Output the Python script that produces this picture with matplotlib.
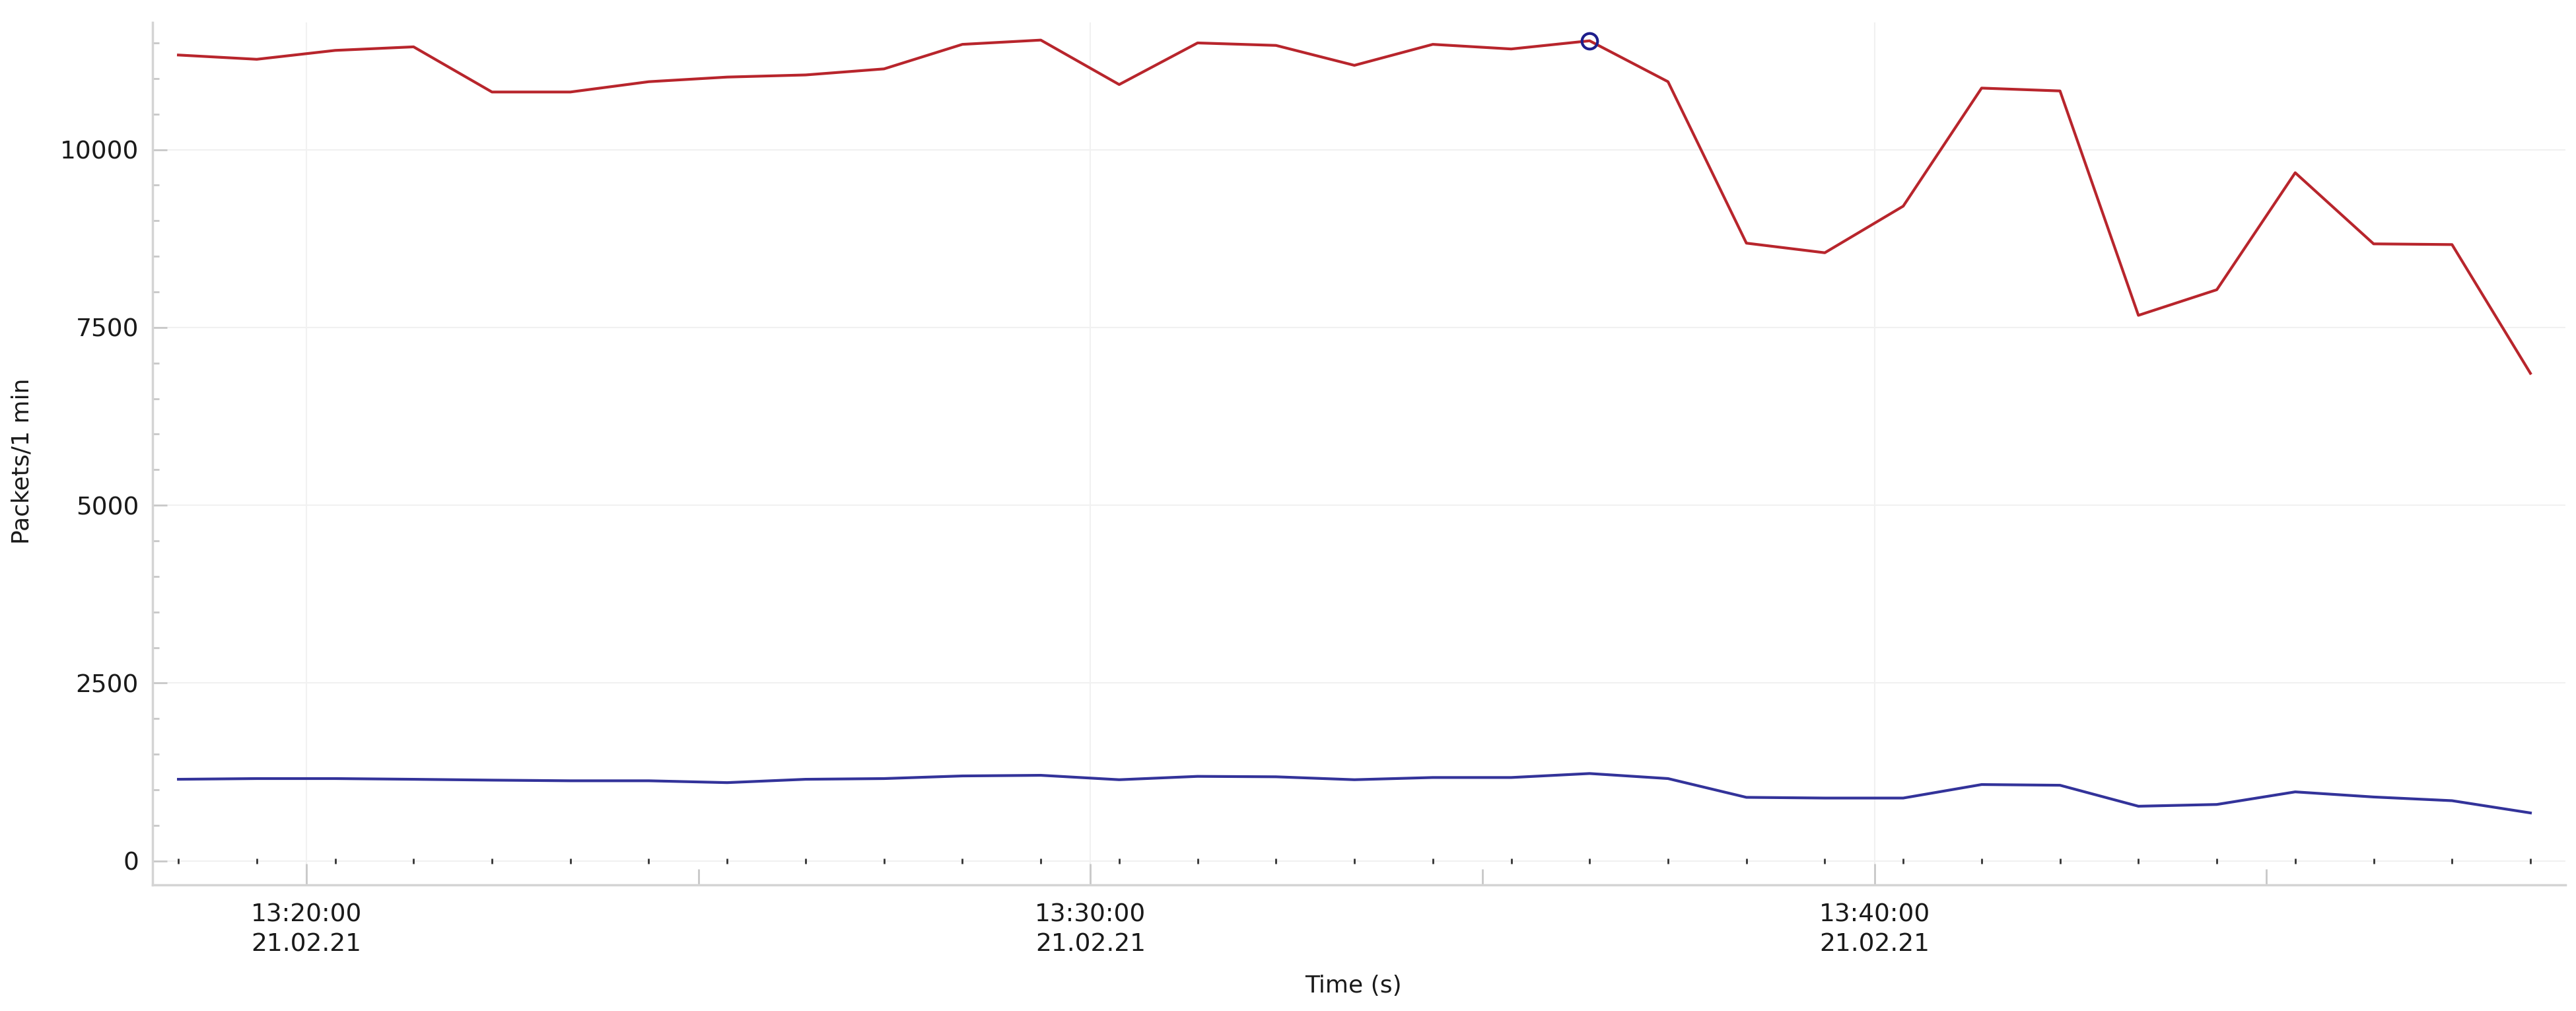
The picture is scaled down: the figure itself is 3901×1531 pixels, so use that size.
import matplotlib
matplotlib.use('Agg')
import matplotlib.pyplot as plt
import matplotlib.dates as mdates
from matplotlib.ticker import MultipleLocator
from datetime import datetime, timedelta

# one sample per minute, first bin at 13:18:22
start = datetime(2021, 2, 21, 13, 18, 22)
times = [start + timedelta(minutes=i) for i in range(31)]

# packets per minute (red graph)
all_packets = [11330, 11270, 11395, 11445, 10810, 10810, 10955, 11020, 11050, 11135,
               11480, 11540, 10915, 11500, 11465, 11185, 11480, 11415, 11530, 10955,
               8685, 8550, 9205, 10865, 10825, 7670, 8030, 9675, 8675, 8665, 6855]
# packets per minute (blue graph)
filtered_packets = [1147, 1157, 1157, 1147, 1135, 1126, 1126, 1100, 1147, 1157,
                    1194, 1203, 1141, 1188, 1182, 1141, 1172, 1172, 1228, 1157,
                    893, 883, 883, 1073, 1063, 768, 793, 970, 898, 846, 674]
# third graph, empty
error_packets = [0] * 31
selected = 18  # highlighted sample

plt.rcParams['font.family'] = 'DejaVu Sans'

fig = plt.figure(figsize=(39.01, 15.31), dpi=100)
ax = fig.add_axes([0.0592, 0.1248, 0.9368, 0.8530])

ax.plot(times, all_packets, color='#b8252c', lw=3, zorder=3)
ax.plot(times, filtered_packets, color='#33339a', lw=3, zorder=3)
ax.plot(times, error_packets, ls='none', marker='|', ms=6, mew=2, color='#333333', zorder=3)
ax.plot(times[selected], all_packets[selected], marker='o', mfc='none', mec='#1e1e8c',
        ms=17, mew=3, zorder=4)

x0 = mdates.date2num(start - timedelta(minutes=0.33))
x1 = mdates.date2num(start + timedelta(minutes=30.45))
ax.set_xlim(x0, x1)
ax.set_ylim(-337, 11788)

ax.xaxis.set_major_locator(mdates.MinuteLocator(byminute=range(0, 60, 10)))
ax.xaxis.set_minor_locator(mdates.MinuteLocator(byminute=range(5, 60, 10)))
ax.xaxis.set_major_formatter(mdates.DateFormatter('%H:%M:%S\n%d.%m.%y'))
ax.yaxis.set_major_locator(MultipleLocator(2500))
ax.yaxis.set_minor_locator(MultipleLocator(500))

ax.tick_params(axis='both', which='both', direction='in', color='#c8c8c8',
               labelcolor='#1a1a1a', labelsize=27, width=2)
ax.tick_params(axis='x', which='major', length=23, pad=20)
ax.tick_params(axis='x', which='minor', length=17)
ax.tick_params(axis='y', which='major', length=16, pad=15)
ax.tick_params(axis='y', which='minor', length=7)

for side in ['top', 'right']:
    ax.spines[side].set_visible(False)
for side in ['left', 'bottom']:
    ax.spines[side].set_color('#d4d4d4')
    ax.spines[side].set_linewidth(2.5)

ax.grid(True, which='major', color='#f1f1f1', lw=1.5, zorder=0)

fig.text(0.0085, 0.544, 'Packets/1 min', rotation=90, ha='center', va='center',
         fontsize=26, color='#1a1a1a')
fig.text(0.5253, 0.0248, 'Time (s)', ha='center', va='center', fontsize=26, color='#1a1a1a')

fig.canvas.draw()
for lab in ax.get_xticklabels():
    lab.set_linespacing(1.3)

fig.savefig('out.png', dpi=100)
